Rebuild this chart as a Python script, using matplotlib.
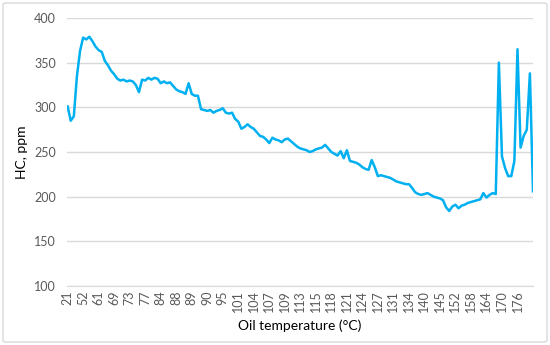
import numpy as np
import matplotlib
matplotlib.use("Agg")
import matplotlib.pyplot as plt
from matplotlib.patches import FancyBboxPatch

plt.rcParams['font.family'] = ['Lato', 'DejaVu Sans']

# tick labels shown every 5th reading
temp_labels = ['21', '52', '61', '69', '73', '77', '84', '88', '89', '90',
               '95', '101', '104', '107', '109', '113', '115', '118', '121', '124',
               '127', '131', '134', '140', '145', '152', '158', '164', '170', '176']
label_step = 5

# HC readings (ppm)
hc = [301, 285, 290, 335, 363, 378, 376, 379, 374, 368,
      364, 362, 352, 347, 341, 337, 332, 330, 331, 329,
      330, 329, 325, 317, 331, 330, 333, 331, 333, 332,
      327, 329, 327, 328, 324, 320, 318, 317, 315, 327,
      315, 313, 313, 298, 297, 296, 297, 294, 296, 297,
      299, 294, 293, 294, 287, 284, 276, 278, 281, 278,
      276, 272, 268, 267, 264, 260, 266, 264, 263, 261,
      264, 265, 262, 259, 256, 254, 253, 252, 250, 251,
      253, 254, 255, 258, 254, 250, 248, 246, 251, 243,
      252, 240, 239, 238, 236, 233, 231, 230, 241, 233,
      223, 224, 223, 222, 221, 219, 217, 216, 215, 214,
      214, 210, 205, 203, 202, 203, 204, 202, 200, 199,
      198, 196, 188, 184, 189, 191, 187, 190, 191, 193,
      194, 195, 196, 197, 204, 199, 202, 204, 203, 350,
      245, 232, 223, 223, 240, 365, 255, 268, 275, 338,
      206]

fig = plt.figure(figsize=(5.5, 3.45), dpi=100)
ax = fig.add_axes([67 / 550, 1 - 286 / 345, 466 / 550, 268 / 345])

x = np.arange(len(hc))
ax.plot(x, hc, color='#00B0F0', linewidth=1.8)

ax.set_ylim(100, 400)
ax.set_yticks(np.arange(100, 401, 50))
ax.set_xlim(-0.2, len(hc) - 1)
ax.set_xticks(np.arange(len(temp_labels)) * label_step)
ax.set_xticklabels(temp_labels, rotation=90)

ax.grid(axis='y', color='#D9D9D9', linewidth=1)
ax.set_axisbelow(True)
for s in ['top', 'right', 'left']:
    ax.spines[s].set_visible(False)
ax.spines['bottom'].set_color('#D9D9D9')
ax.tick_params(length=0, labelsize=9, labelcolor='#595959')
ax.tick_params(axis='y', pad=8)
ax.tick_params(axis='x', pad=3)

ax.set_ylabel('HC, ppm', fontsize=10, color='black', labelpad=4)
ax.set_xlabel('Oil temperature (°C)', fontsize=10, color='black', labelpad=5)

border = FancyBboxPatch((3 / 550, 3 / 345), 544 / 550, 339 / 345,
                        boxstyle='round,pad=0,rounding_size=0.005',
                        transform=fig.transFigure, facecolor='none',
                        edgecolor='#D9D9D9', linewidth=1)
fig.patches.append(border)

fig.savefig('out.png', dpi=100)
